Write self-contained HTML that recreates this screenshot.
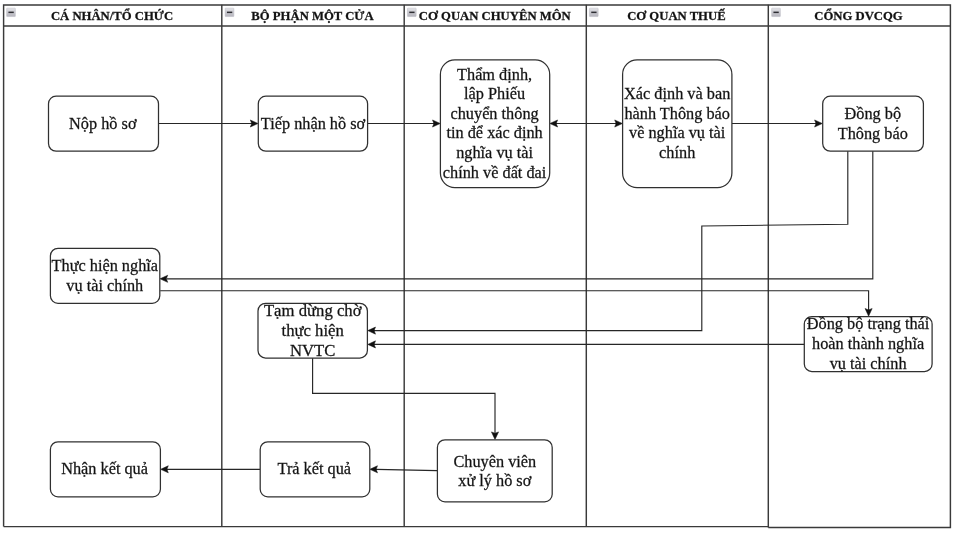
<!DOCTYPE html>
<html>
<head>
<meta charset="utf-8">
<title>Swimlane</title>
<style>
  html,body{margin:0;padding:0;background:#fff;}
  body{width:957px;height:534px;overflow:hidden;}
  svg{display:block;position:absolute;left:0;top:0;filter:blur(0.4px);}
  .ln{stroke:#3a3a3a;stroke-width:1.45;fill:none;}
  .bx{stroke:#303030;stroke-width:1.25;fill:#fff;}
  .cn{stroke:#262626;stroke-width:1.15;fill:none;}
  .ah{fill:#111;stroke:#111;stroke-width:0.5;stroke-linejoin:miter;}
  text{font-family:"Liberation Serif",serif;fill:#111;stroke:#222;stroke-width:0.28px;}
  .h{font-weight:bold;font-size:12.7px;text-anchor:middle;}
  .t{font-size:16.3px;text-anchor:middle;}
</style>
</head>
<body>
<svg width="957" height="534" viewBox="0 0 957 534">
  <rect x="0" y="0" width="957" height="534" fill="#ffffff"/>

  <defs><linearGradient id="ig" x1="0" y1="0" x2="0" y2="1"><stop offset="0" stop-color="#e6e6ea"/><stop offset="0.4" stop-color="#cdcdd3"/><stop offset="1" stop-color="#b6b5bd"/></linearGradient></defs>

  <!-- lanes -->
  <g class="ln">
    <path d="M3.6 526.6 V4.95 H950.4 V527.5 H768.3"/>
    <path d="M3.6 526.6 H768.3"/>
    <path d="M3.6 26 H950.4"/>
    <path d="M221.8 4.8 V526.6"/>
    <path d="M404.2 4.8 V526.6"/>
    <path d="M586.3 4.8 V526.6"/>
    <path d="M768.3 4.8 V527.5"/>
  </g>

  <!-- collapse icons -->
  <g id="icons">
    <g transform="translate(6.65,8.15)"><rect x="0" y="0" width="8.7" height="8.4" rx="0.5" fill="url(#ig)" stroke="#b9b8c0" stroke-width="0.5"/><rect x="1.8" y="3.45" width="5.3" height="1.5" fill="#2e2e33"/></g>
    <g transform="translate(225.15,8.15)"><rect x="0" y="0" width="8.7" height="8.4" rx="0.5" fill="url(#ig)" stroke="#b9b8c0" stroke-width="0.5"/><rect x="1.8" y="3.45" width="5.3" height="1.5" fill="#2e2e33"/></g>
    <g transform="translate(407.45,8.15)"><rect x="0" y="0" width="8.7" height="8.4" rx="0.5" fill="url(#ig)" stroke="#b9b8c0" stroke-width="0.5"/><rect x="1.8" y="3.45" width="5.3" height="1.5" fill="#2e2e33"/></g>
    <g transform="translate(589.45,8.15)"><rect x="0" y="0" width="8.7" height="8.4" rx="0.5" fill="url(#ig)" stroke="#b9b8c0" stroke-width="0.5"/><rect x="1.8" y="3.45" width="5.3" height="1.5" fill="#2e2e33"/></g>
    <g transform="translate(771.65,8.15)"><rect x="0" y="0" width="8.7" height="8.4" rx="0.5" fill="url(#ig)" stroke="#b9b8c0" stroke-width="0.5"/><rect x="1.8" y="3.45" width="5.3" height="1.5" fill="#2e2e33"/></g>
  </g>

  <!-- headers -->
  <text class="h" x="112" y="19.5">CÁ NHÂN/TỔ CHỨC</text>
  <text class="h" x="312.5" y="19.5">BỘ PHẬN MỘT CỬA</text>
  <text class="h" x="494.8" y="19.5">CƠ QUAN CHUYÊN MÔN</text>
  <text class="h" x="676.4" y="19.5">CƠ QUAN THUẾ</text>
  <text class="h" x="858.5" y="19.5">CỔNG DVCQG</text>

  <!-- connectors -->
  <g class="cn">
    <path d="M158.5 123.5 H252"/>
    <path d="M367.6 123.5 H434"/>
    <path d="M556 123.5 H616.5"/>
    <path d="M732 123.5 H816"/>
    <path d="M847.8 151 V224.2 L701.8 226 V330.6 H374"/>
    <path d="M872.8 151 V278.8 H166.5"/>
    <path d="M160.2 290.7 H868.6 V310"/>
    <path d="M804.3 344.4 H374"/>
    <path d="M312.6 358.2 V393.4 H495 V433.5"/>
    <path d="M437.4 470.6 L376 469.35"/>
    <path d="M260.2 469.3 H167"/>
  </g>

  <!-- arrowheads -->
  <g class="ah">
    <path d="M258 123.5 l-7.7 -3.55 l1.4 3.55 l-1.4 3.55 z"/>
    <path d="M440.2 123.5 l-7.7 -3.55 l1.4 3.55 l-1.4 3.55 z"/>
    <path d="M549.9 123.5 l7.7 -3.55 l-1.4 3.55 l1.4 3.55 z"/>
    <path d="M622.4 123.5 l-7.7 -3.55 l1.4 3.55 l-1.4 3.55 z"/>
    <path d="M822.3 123.5 l-7.7 -3.55 l1.4 3.55 l-1.4 3.55 z"/>
    <path d="M367.8 330.6 l7.7 -3.55 l-1.4 3.55 l1.4 3.55 z"/>
    <path d="M160 278.8 l7.7 -3.55 l-1.4 3.55 l1.4 3.55 z"/>
    <path d="M868.6 316.2 l-3.55 -7.7 l3.55 1.4 l3.55 -1.4 z"/>
    <path d="M367.8 344.4 l7.7 -3.55 l-1.4 3.55 l1.4 3.55 z"/>
    <path d="M495 439.6 l-3.55 -7.7 l3.55 1.4 l3.55 -1.4 z"/>
    <path d="M369.8 469.3 l7.7 -3.55 l-1.4 3.55 l1.4 3.55 z"/>
    <path d="M160.6 469.3 l7.7 -3.55 l-1.4 3.55 l1.4 3.55 z"/>
  </g>

  <!-- boxes -->
  <rect class="bx" x="48.5" y="96.2" width="110" height="55" rx="7.6"/>
  <rect class="bx" x="258.3" y="96.2" width="109.3" height="55" rx="7.6"/>
  <rect class="bx" x="440.4" y="59.9" width="109.3" height="127.7" rx="14.5"/>
  <rect class="bx" x="622.6" y="59.9" width="109.3" height="127.7" rx="14.5"/>
  <rect class="bx" x="822.7" y="96.2" width="100.7" height="55" rx="7.6"/>
  <rect class="bx" x="50.4" y="248.3" width="109.4" height="55" rx="7.6"/>
  <rect class="bx" x="258" y="303.3" width="109.4" height="54.7" rx="7.6"/>
  <rect class="bx" x="804.3" y="316.5" width="127.8" height="55" rx="7.6"/>
  <rect class="bx" x="50.4" y="441.8" width="110" height="55" rx="7.6"/>
  <rect class="bx" x="260.2" y="441.8" width="109.6" height="55" rx="7.6"/>
  <rect class="bx" x="437.4" y="439.8" width="114.8" height="62" rx="7.6"/>

  <!-- box labels -->
  <text class="t" x="102.8" y="128.7">Nộp hồ sơ</text>
  <text class="t" x="313" y="128.7">Tiếp nhận hồ sơ</text>

  <text class="t" x="494.6" y="79.7">Thẩm định,</text>
  <text class="t" x="494.6" y="99.3">lập Phiếu</text>
  <text class="t" x="494.6" y="118.8">chuyển thông</text>
  <text class="t" x="494.6" y="138.4">tin để xác định</text>
  <text class="t" x="494.6" y="157.9">nghĩa vụ tài</text>
  <text class="t" x="494.6" y="177.5">chính về đất đai</text>

  <text class="t" x="677.2" y="99.3">Xác định và ban</text>
  <text class="t" x="677.2" y="118.8">hành Thông báo</text>
  <text class="t" x="677.2" y="138.4">về nghĩa vụ tài</text>
  <text class="t" x="677.2" y="157.9">chính</text>

  <text class="t" x="872.8" y="119.3">Đồng bộ</text>
  <text class="t" x="872.8" y="138.9">Thông báo</text>

  <text class="t" x="104.8" y="270.9">Thực hiện nghĩa</text>
  <text class="t" x="104.8" y="290.8">vụ tài chính</text>

  <text class="t" style="font-size:16.7px" x="312.7" y="316.1">Tạm dừng chờ</text>
  <text class="t" style="font-size:16.7px" x="312.7" y="336.2">thực hiện</text>
  <text class="t" style="font-size:16.7px" x="312.7" y="356.1">NVTC</text>

  <text class="t" x="868.1" y="329.2">Đồng bộ trạng thái</text>
  <text class="t" x="868.1" y="349.3">hoàn thành nghĩa</text>
  <text class="t" x="868.1" y="369.1">vụ tài chính</text>

  <text class="t" x="104.6" y="474.4">Nhận kết quả</text>
  <text class="t" x="314.3" y="474.4">Trả kết quả</text>

  <text class="t" x="494.8" y="466.5">Chuyên viên</text>
  <text class="t" x="494.8" y="486">xử lý hồ sơ</text>
</svg>
</body>
</html>
